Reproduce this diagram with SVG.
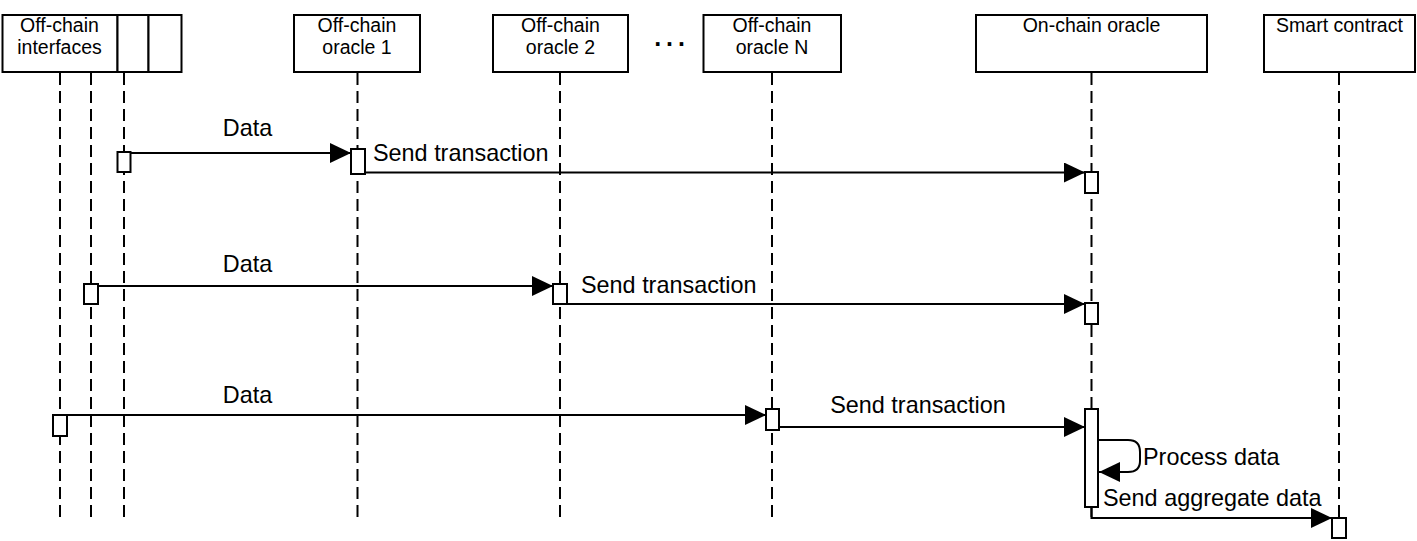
<svg xmlns="http://www.w3.org/2000/svg" width="1417" height="541" viewBox="0 0 1417 541">
<style>
  .box{fill:#fff;stroke:#000;stroke-width:2}
  .act{fill:#fff;stroke:#000;stroke-width:2}
  .life{stroke:#000;stroke-width:2;stroke-dasharray:12 6;fill:none}
  .msg{stroke:#000;stroke-width:2;fill:none}
  .hl{font-family:"Liberation Sans",Arial,sans-serif;font-size:19.5px;text-anchor:middle;fill:#000}
  .ml{font-family:"Liberation Sans",Arial,sans-serif;font-size:23.4px;fill:#000}
</style>
<defs>
  <marker id="arr" markerUnits="userSpaceOnUse" markerWidth="22" markerHeight="22" refX="21" refY="10" orient="auto">
    <path d="M0,0 L21,10 L0,20 z" fill="#000"/>
  </marker>
</defs>
<rect width="1417" height="541" fill="#fff"/>

<g id="lifelines">
  <line class="life" x1="60" y1="73" x2="60" y2="518"/>
  <line class="life" x1="91" y1="73" x2="91" y2="518"/>
  <line class="life" x1="124" y1="73" x2="124" y2="518"/>
  <line class="life" x1="357.5" y1="73" x2="357.5" y2="518"/>
  <line class="life" x1="560" y1="73" x2="560" y2="518"/>
  <line class="life" x1="772" y1="73" x2="772" y2="518"/>
  <line class="life" x1="1091.5" y1="73" x2="1091.5" y2="518"/>
  <line class="life" x1="1339" y1="73" x2="1339" y2="518"/>
</g>

<g id="node-interfaces">
  <rect class="box" x="2.5" y="15" width="115" height="57"/>
  <rect class="box" x="117.5" y="15" width="31" height="57"/>
  <rect class="box" x="148.5" y="15" width="33" height="57"/>
  <text class="hl" x="59.5" y="32">Off-chain</text>
  <text class="hl" x="59.5" y="54">interfaces</text>
</g>
<g id="node-oracle1">
  <rect class="box" x="294" y="15" width="126" height="57"/>
  <text class="hl" x="357" y="32">Off-chain</text>
  <text class="hl" x="357" y="54">oracle 1</text>
</g>
<g id="node-oracle2">
  <rect class="box" x="493" y="15" width="135" height="57"/>
  <text class="hl" x="560.5" y="32">Off-chain</text>
  <text class="hl" x="560.5" y="54">oracle 2</text>
</g>
<g id="node-dots">
  <text x="669" y="46" font-family="Liberation Sans,Arial,sans-serif" font-size="25" font-weight="bold" text-anchor="middle" letter-spacing="-1">. . .</text>
</g>
<g id="node-oracleN">
  <rect class="box" x="703.5" y="15" width="137.5" height="57"/>
  <text class="hl" x="772" y="32">Off-chain</text>
  <text class="hl" x="772" y="54">oracle N</text>
</g>
<g id="node-onchain">
  <rect class="box" x="976" y="15" width="231" height="57"/>
  <text class="hl" x="1091.5" y="32">On-chain oracle</text>
</g>
<g id="node-smart">
  <rect class="box" x="1264" y="15" width="151" height="57"/>
  <text class="hl" x="1339.5" y="32">Smart contract</text>
</g>

<g id="connectors">
  <line class="msg" x1="130.5" y1="153" x2="351" y2="153" marker-end="url(#arr)"/>
  <line class="msg" x1="365" y1="172.5" x2="1085" y2="172.5" marker-end="url(#arr)"/>
  <line class="msg" x1="98" y1="286" x2="553" y2="286" marker-end="url(#arr)"/>
  <line class="msg" x1="567" y1="304" x2="1085" y2="304" marker-end="url(#arr)"/>
  <line class="msg" x1="67" y1="415" x2="766" y2="415" marker-end="url(#arr)"/>
  <line class="msg" x1="779" y1="427" x2="1085" y2="427" marker-end="url(#arr)"/>
  <path class="msg" d="M1098,440 H1128 Q1140,440 1140,452 V461 Q1140,472 1128,472 H1099" marker-end="url(#arr)"/>
  <path class="msg" d="M1091.5,507 V518 H1332" marker-end="url(#arr)"/>
  <text class="ml" x="247.5" y="136" text-anchor="middle">Data</text>
  <text class="ml" x="373" y="161">Send transaction</text>
  <text class="ml" x="247.5" y="272" text-anchor="middle">Data</text>
  <text class="ml" x="581" y="293">Send transaction</text>
  <text class="ml" x="918" y="413" text-anchor="middle">Send transaction</text>
  <text class="ml" x="247.5" y="403" text-anchor="middle">Data</text>
  <text class="ml" x="1143" y="465">Process data</text>
  <text class="ml" x="1103" y="506">Send aggregate data</text>
</g>

<g id="activations">
  <rect class="act" x="117.5" y="152" width="13" height="20"/>
  <rect class="act" x="351" y="149" width="14" height="25"/>
  <rect class="act" x="1085" y="172" width="13" height="21"/>
  <rect class="act" x="84" y="284" width="14" height="20"/>
  <rect class="act" x="553" y="284" width="14" height="20"/>
  <rect class="act" x="1085" y="303" width="13" height="21"/>
  <rect class="act" x="53" y="415" width="14" height="21"/>
  <rect class="act" x="766" y="409" width="13" height="21"/>
  <rect class="act" x="1085" y="409" width="13" height="98"/>
  <rect class="act" x="1332" y="518" width="14" height="20"/>
</g>
</svg>
